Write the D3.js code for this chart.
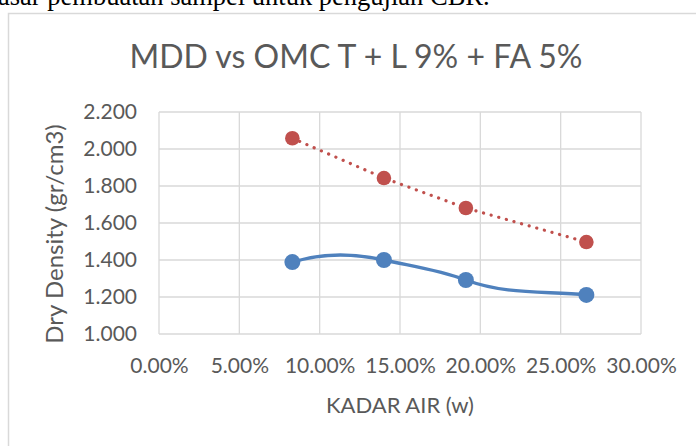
<!DOCTYPE html>
<html>
<head>
<meta charset="utf-8">
<script src="https://cdn.jsdelivr.net/npm/d3@7"></script>
<style>
  body { margin: 0; background: #fff; }
  svg { display: block; }
</style>
</head>
<body>
<script>
// chart data
var kadarAir = [0.083, 0.140, 0.191, 0.266];
var drySmooth = [1.389, 1.400, 1.292, 1.211];
var dryDotted = [2.058, 1.843, 1.681, 1.497];
var xTicks = [0, 0.05, 0.10, 0.15, 0.20, 0.25, 0.30];
var yTicks = [1.0, 1.2, 1.4, 1.6, 1.8, 2.0, 2.2];

var W = 696, H = 446;
var plotL = 159, plotR = 641, plotT = 112, plotB = 334;
var font = 'Lato, Carlito, Calibri, sans-serif';
var textCol = '#595959';

var svg = d3.select('body').append('svg')
  .attr('width', W).attr('height', H);

// cut-off text line from the document above the chart
svg.append('text').text('asar pembuatan sampel untuk pengujian CBR.')
  .attr('x', -2).attr('y', 5)
  .attr('font-family', 'Liberation Serif, Times New Roman, serif')
  .attr('font-size', 26.5).attr('fill', '#000');

// chart frame
svg.append('rect')
  .attr('x', 8.5).attr('y', 13.5)
  .attr('width', 720).attr('height', 460)
  .attr('fill', '#fff').attr('stroke', '#d9d9d9').attr('stroke-width', 1.5);

var x = d3.scaleLinear().domain([0, 0.30]).range([plotL, plotR]);
var y = d3.scaleLinear().domain([1.0, 2.2]).range([plotB, plotT]);

// gridlines
var grid = svg.append('g');
grid.selectAll('.hgrid').data(yTicks).enter().append('line')
  .attr('class', 'hgrid')
  .attr('x1', plotL).attr('x2', plotR)
  .attr('y1', d => y(d)).attr('y2', d => y(d))
  .attr('stroke', '#d9d9d9').attr('stroke-width', 1.3);
grid.selectAll('.vgrid').data(xTicks).enter().append('line')
  .attr('class', 'vgrid')
  .attr('x1', d => x(d)).attr('x2', d => x(d))
  .attr('y1', plotT).attr('y2', plotB)
  .attr('stroke', '#d9d9d9').attr('stroke-width', 1.3);

// axes (labels only, the lines come from the grid)
var yAxis = d3.axisLeft(y).tickValues(yTicks).tickSize(0).tickPadding(22)
  .tickFormat(d3.format('.3f'));
var xAxis = d3.axisBottom(x).tickValues(xTicks).tickSize(0).tickPadding(24)
  .tickFormat(d3.format('.2%'));

var gy = svg.append('g').attr('transform', 'translate(' + plotL + ',0)').call(yAxis);
var gx = svg.append('g').attr('transform', 'translate(0,' + plotB + ')').call(xAxis);
[gx, gy].forEach(function(g){
  g.select('.domain').remove();
  g.selectAll('text').attr('font-family', font).attr('font-size', 21).attr('fill', textCol);
});

// series
var pts1 = kadarAir.map((k, i) => [k, drySmooth[i]]);
var pts2 = kadarAir.map((k, i) => [k, dryDotted[i]]);

// excel-like smoothed line: hermite segments, slopes from 3-point parabolas, loosened
function smoothPath(pts, loose) {
  var p = pts.map(d => [x(d[0]), y(d[1])]);
  var n = p.length, m = [];
  var s = [], h = [];
  for (var i = 0; i < n - 1; i++) {
    h.push(p[i+1][0] - p[i][0]);
    s.push((p[i+1][1] - p[i][1]) / h[i]);
  }
  for (var i = 0; i < n; i++) {
    if (i == 0) m.push(s[0] + (s[0] - s[1]) * h[0] / (h[0] + h[1]));
    else if (i == n - 1) m.push(s[n-2] + (s[n-2] - s[n-3]) * h[n-2] / (h[n-2] + h[n-3]));
    else m.push((s[i-1] * h[i] + s[i] * h[i-1]) / (h[i-1] + h[i]));
  }
  var path = d3.path();
  path.moveTo(p[0][0], p[0][1]);
  for (var i = 0; i < n - 1; i++) {
    var d = h[i] / 3;
    path.bezierCurveTo(p[i][0] + d, p[i][1] + m[i] * d * loose,
                       p[i+1][0] - d, p[i+1][1] - m[i+1] * d * loose,
                       p[i+1][0], p[i+1][1]);
  }
  return path.toString();
}

var straightLine = d3.line().x(d => x(d[0])).y(d => y(d[1]));

svg.append('path').datum(pts2).attr('d', straightLine)
  .attr('fill', 'none').attr('stroke', '#c0504d').attr('stroke-width', 3.2)
  .attr('stroke-linecap', 'round').attr('stroke-dasharray', '0.1 7.8');
svg.append('path').attr('d', smoothPath(pts1, 1.9))
  .attr('fill', 'none').attr('stroke', '#4f81bd').attr('stroke-width', 3.4);

svg.selectAll('.p2').data(pts2).enter().append('circle')
  .attr('class', 'p2')
  .attr('cx', d => x(d[0])).attr('cy', d => y(d[1])).attr('r', 7.3)
  .attr('fill', '#c0504d');
svg.selectAll('.p1').data(pts1).enter().append('circle')
  .attr('class', 'p1')
  .attr('cx', d => x(d[0])).attr('cy', d => y(d[1])).attr('r', 8)
  .attr('fill', '#4f81bd');

// titles
svg.append('text').text('MDD vs OMC T + L 9% + FA 5%')
  .attr('x', 356).attr('y', 68).attr('text-anchor', 'middle')
  .attr('font-family', font).attr('font-size', 32).attr('fill', textCol);

svg.append('text').text('KADAR AIR (w)')
  .attr('x', 400).attr('y', 413).attr('text-anchor', 'middle')
  .attr('font-family', font).attr('font-size', 22).attr('fill', textCol);

svg.append('text').text('Dry Density (gr/cm3)')
  .attr('transform', 'translate(63,234) rotate(-90)')
  .attr('text-anchor', 'middle')
  .attr('font-family', font).attr('font-size', 24).attr('fill', textCol);
</script>
</body>
</html>
